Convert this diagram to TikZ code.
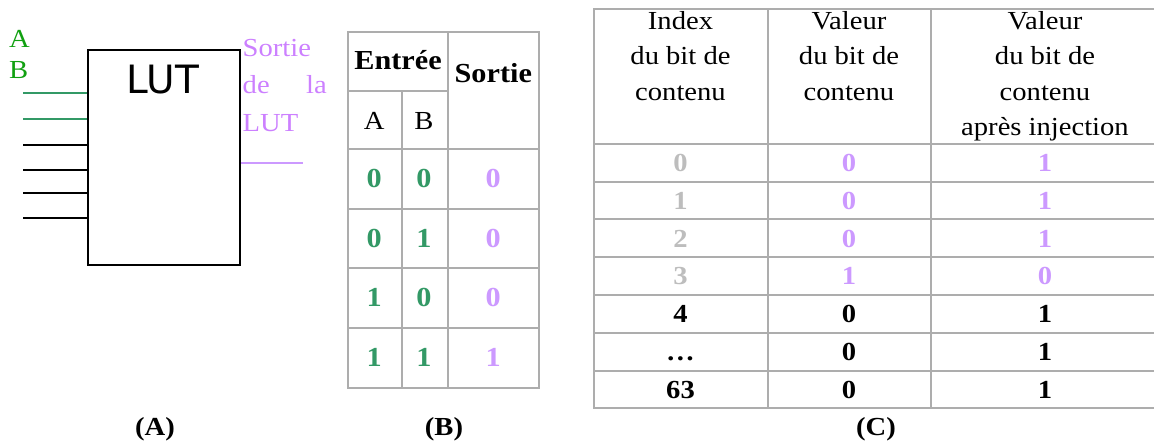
\documentclass[tikz,border=0pt]{standalone}
\usepackage{fontspec}
\setmainfont{Liberation Serif}[FakeStretch=1.1]
\newfontfamily\lutfont{DejaVu Sans}
\definecolor{bitgreen}{HTML}{339966}
\definecolor{labgreen}{HTML}{11A011}
\definecolor{outpurple}{HTML}{CC80FF}
\definecolor{lightpurple}{HTML}{CC99FF}
\definecolor{rulegray}{HTML}{ADADAD}
\definecolor{idxgray}{HTML}{BDBDBD}
\begin{document}
\begin{tikzpicture}[x=1pt, y=-1pt, every node/.style={inner sep=0pt},
  txt/.style={font=\fontsize{26}{35}\selectfont},
  hdr/.style={font=\fontsize{26}{35.5}\selectfont,align=center,anchor=north},
  bit/.style={font=\fontsize{26}{30}\selectfont\bfseries,anchor=base},
  bigbit/.style={font=\fontsize{27.5}{30}\selectfont\bfseries,anchor=base},
  rule/.style={draw=rulegray,line width=2pt},
  wire/.style={line width=1.6pt}]
\useasboundingbox (0,0) rectangle (1154,446);
% (A) the LUT block
\node[draw,line width=2pt,minimum width=152pt,minimum height=215pt,anchor=north west] (lut) at (87,49) {};
\node[font=\lutfont\fontsize{39}{40}\selectfont] (lutname) at (163,80) {LUT};
\foreach \y/\c [count=\i] in {93/bitgreen,119/bitgreen,145/black,170/black,193/black,218/black}{
  \coordinate (in\i) at (23,\y);
  \draw[wire,\c] (in\i) -- (in\i -| lut.west);
}
\node[txt,text=labgreen,anchor=base west] (lblA) at (9,48) {A};
\node[txt,text=labgreen,anchor=base west] (lblB) at (9,79) {B};
\coordinate (out) at (303,163);
\draw[wire,lightpurple] (lut.east |- out) -- (out);
\node[anchor=north west,text width=84pt,align=left,text=outpurple,font=\fontsize{26}{37.5}\selectfont] (outlbl) at (242.5,39) {Sortie\\de\hskip 0pt plus 1fill\relax la\\LUT};
\node[font=\fontsize{26}{30}\selectfont\bfseries,anchor=base] (capA) at (155,435) {(A)};
% (B) truth table
\draw[rule] (348.3,31.7) rectangle (539.3,387.7);
\draw[rule] (447.7,31.7) -- (447.7,387.7);
\draw[rule] (348.3,90.7) -- (447.7,90.7);
\draw[rule] (401.7,90.7) -- (401.7,387.7);
\foreach \y in {149.3,209,268.3,327.7} \draw[rule] (348.3,\y) -- (539.3,\y);
\node[bigbit] (entree) at (398,70) {Entrée};
\node[bigbit] (sortieB) at (493.3,83) {Sortie};
\node[txt,anchor=base] (colA) at (374.3,130) {A};
\node[txt,anchor=base] (colB) at (424,130) {B};
\foreach \a/\b/\s [count=\k from 0] in {0/0/0,0/1/0,1/0/0,1/1/1}{
  \node[bigbit,text=bitgreen] (ta\k) at (374.3,188+59.5*\k) {\a};
  \node[bigbit,text=bitgreen] (tb\k) at (424,188+59.5*\k) {\b};
  \node[bigbit,text=lightpurple] (ts\k) at (493.3,188+59.5*\k) {\s};
}
\node[font=\fontsize{26}{30}\selectfont\bfseries,anchor=base] (capB) at (444,435) {(B)};
% (C) content bits
\draw[rule] (1160,9.5) -- (593.5,9.5) -- (593.5,408.3) -- (1160,408.3);
\draw[rule] (767.5,9.5) -- (767.5,408.3);
\draw[rule] (930.6,9.5) -- (930.6,408.3);
\foreach \k in {0,...,6} \draw[rule] (593.5,144+37.75*\k) -- (1160,144+37.75*\k);
\node[hdr] (hidx) at (680.5,11.2) {Index\\du bit de\\contenu};
\node[hdr] (hval) at (849,11.2) {Valeur\\du bit de\\contenu};
\node[hdr] (hinj) at (1045,11.2) {Valeur\\du bit de\\contenu\\après injection};
\foreach \a/\b/\c/\ca/\cv [count=\k from 0] in {0/0/1/idxgray/lightpurple,1/0/1/idxgray/lightpurple,2/0/1/idxgray/lightpurple,3/1/0/idxgray/lightpurple,4/0/1/black/black,{\dots}/0/1/black/black,63/0/1/black/black}{
  \node[bit,text=\ca] (idx\k) at (680.5,171.7+37.75*\k) {\a};
  \node[bit,text=\cv] (val\k) at (849,171.7+37.75*\k) {\b};
  \node[bit,text=\cv] (inj\k) at (1045,171.7+37.75*\k) {\c};
}
\node[font=\fontsize{26}{30}\selectfont\bfseries,anchor=base] (capC) at (876,435) {(C)};
\end{tikzpicture}
\end{document}
